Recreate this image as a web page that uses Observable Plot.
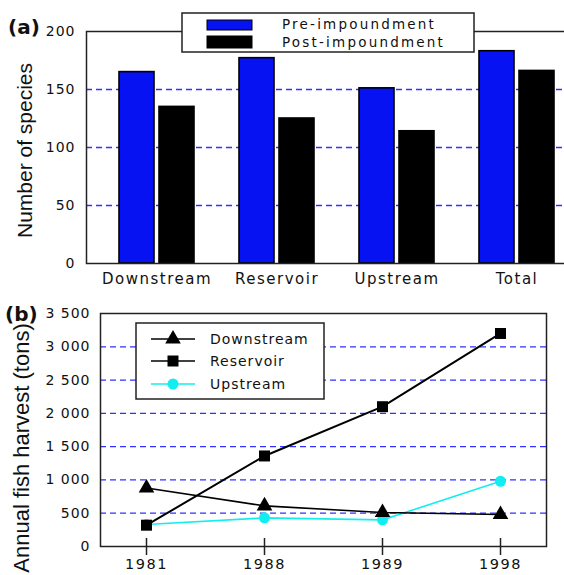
<!DOCTYPE html>
<html><head><meta charset="utf-8">
<script src="https://cdn.jsdelivr.net/npm/d3@7"></script>
<script src="https://cdn.jsdelivr.net/npm/@observablehq/plot@0.6"></script>
<style>
html,body{margin:0;padding:0;background:#fff;overflow:hidden;}
#wrap{position:relative;width:564px;height:575px;overflow:hidden;}
#wrap > svg{display:block;}
#overlay{position:absolute;left:0;top:0;pointer-events:none;}
.tick-lab g[aria-label="x-axis tick label"] text{letter-spacing:1.5px;}
.tick-lab g[aria-label="y-axis tick label"] text{letter-spacing:1px;}
</style>
</head><body>
<div id="wrap"></div>
<script>
// ---------- Data: panel (a) ----------
const categories = ["Downstream", "Reservoir", "Upstream", "Total"];
const preImpoundment = [165, 177, 151, 183];
const postImpoundment = [135, 125, 114, 166];
const seriesA = ["Pre-impoundment", "Post-impoundment"];
const colorsA = ["#0612f2", "#000000"];
const yTicksA = [0, 50, 100, 150, 200];
const gridA = [50, 100, 150];
const titleA = "Number of species";

// ---------- Data: panel (b) ----------
const years = ["1981", "1988", "1989", "1998"];
const downstream = [880, 610, 510, 480];
const reservoir = [320, 1360, 2100, 3200];
const upstream = [330, 430, 400, 980];
const seriesB = ["Downstream", "Reservoir", "Upstream"];
const colorsB = ["#000000", "#000000", "#12eef0"];
const symbolsB = ["triangle", "square", "circle"];
const yTicksB = [0, 500, 1000, 1500, 2000, 2500, 3000, 3500];
const gridB = [500, 1000, 1500, 2000, 2500, 3000];
const titleB = "Annual fish harvest (tons)";

const gridColor = "#3030ff";
const tickFont = "DejaVu Sans";
const titleFont = "Liberation Sans";

// ---------- Panel (a) ----------
const dataA = categories.map((c, i) => ({category: c, pre: preImpoundment[i], post: postImpoundment[i]}));
const plotA = Plot.plot({
  width: 564, height: 290,
  marginTop: 31, marginBottom: 27, marginLeft: 86, marginRight: -22,
  className: "tick-lab",
  style: {fontFamily: tickFont, color: "#111", background: "white"},
  x: {domain: categories, paddingInner: 0.379, paddingOuter: 0.26, label: null},
  y: {domain: [0, 200], label: null},
  marks: [
    Plot.ruleY(gridA, {stroke: gridColor, strokeDasharray: "6,4", strokeWidth: 1.3}),
    Plot.barY(dataA, {x: "category", y: "pre", fill: colorsA[0], stroke: "#000", strokeWidth: 1.6, insetRight: 40}),
    Plot.barY(dataA, {x: "category", y: "post", fill: colorsA[1], stroke: "#000", strokeWidth: 1.6, insetLeft: 40}),
    Plot.frame({stroke: "#222", strokeWidth: 1.5}),
    Plot.axisX({tickSize: 0, tickPadding: 10, fontSize: 15}),
    Plot.axisY({ticks: yTicksA, tickSize: 0, tickPadding: 11, fontSize: 14}),
    Plot.text([titleA], {text: d => d, frameAnchor: "left", textAnchor: "middle", rotate: -90, dx: -61, dy: 3, fontSize: 21, fontFamily: titleFont, fill: "#111"})
  ]
});

// ---------- Panel (b) ----------
const valuesB = [downstream, reservoir, upstream];
const dataB = seriesB.flatMap((s, si) => years.map((yr, i) => ({series: s, year: yr, value: valuesB[si][i]})));
const bySeries = s => dataB.filter(d => d.series === s);
const fmt = d3.formatLocale({thousands: " ", grouping: [3], decimal: ".", currency: ["", ""]}).format(",");
const plotB = Plot.plot({
  width: 564, height: 285,
  marginTop: 23, marginBottom: 29, marginLeft: 100, marginRight: 18,
  className: "tick-lab",
  style: {fontFamily: tickFont, color: "#111", background: "white"},
  x: {type: "point", domain: years, padding: 0.374, label: null},
  y: {domain: [0, 3500], label: null},
  marks: [
    Plot.ruleY(gridB, {stroke: gridColor, strokeDasharray: "6,4", strokeWidth: 1.3}),
    Plot.frame({stroke: "#222", strokeWidth: 1.5}),
    Plot.line(bySeries("Upstream"), {x: "year", y: "value", stroke: colorsB[2], strokeWidth: 1.6}),
    Plot.line(bySeries("Downstream"), {x: "year", y: "value", stroke: colorsB[0], strokeWidth: 1.6}),
    Plot.line(bySeries("Reservoir"), {x: "year", y: "value", stroke: colorsB[1], strokeWidth: 2}),
    Plot.dot(bySeries("Upstream"), {x: "year", y: "value", symbol: symbolsB[2], r: 5.5, fill: colorsB[2]}),
    Plot.dot(bySeries("Downstream"), {x: "year", y: "value", symbol: symbolsB[0], r: 5.8, fill: colorsB[0]}),
    Plot.dot(bySeries("Reservoir"), {x: "year", y: "value", symbol: symbolsB[1], r: 6.2, fill: colorsB[1]}),
    Plot.ruleX(years, {x: d => d, y1: 0, y2: 0, insetTop: 9, insetBottom: 8, stroke: "#222", strokeWidth: 1.5}),
    Plot.axisX({tickSize: 0, tickPadding: 12, fontSize: 14.5}),
    Plot.axisY({ticks: yTicksB, tickFormat: fmt, tickSize: 0, tickPadding: 10, fontSize: 14}),
    Plot.text([titleB], {text: d => d, frameAnchor: "left", textAnchor: "middle", rotate: -90, dx: -79, dy: 18, fontSize: 22, fontFamily: titleFont, fill: "#111"})
  ]
});

const wrap = document.getElementById("wrap");
wrap.appendChild(plotA);
wrap.appendChild(plotB);

// ---------- Overlay: panel letters and legends ----------
const ov = d3.select(wrap).append("svg").attr("id", "overlay").attr("width", 564).attr("height", 575);
ov.append("text").attr("x", 8).attr("y", 34).attr("font-family", tickFont).attr("font-weight", "bold").attr("font-size", 20).attr("fill", "#111").text("(a)");
ov.append("text").attr("x", 5).attr("y", 321).attr("font-family", tickFont).attr("font-weight", "bold").attr("font-size", 20).attr("fill", "#111").text("(b)");

// legend (a)
const la = ov.append("g").attr("transform", "translate(182,13)");
la.append("rect").attr("width", 292).attr("height", 39).attr("fill", "white").attr("stroke", "#222").attr("stroke-width", 1.5);
seriesA.forEach((s, i) => {
  la.append("rect").attr("x", 25).attr("y", i === 0 ? 7 : 23).attr("width", 45).attr("height", i === 0 ? 10 : 12).attr("fill", colorsA[i]).attr("stroke", "#000").attr("stroke-width", 1);
  la.append("text").attr("x", 100).attr("y", i === 0 ? 11 : 29).attr("dy", "0.35em")
    .attr("font-family", tickFont).attr("font-size", 13.5).attr("letter-spacing", "2.2px").attr("fill", "#111").text(s);
});

// legend (b)
const lb = ov.append("g").attr("transform", "translate(136,323)");
lb.append("rect").attr("width", 188).attr("height", 76).attr("fill", "white").attr("stroke", "#222").attr("stroke-width", 1.5);
const symMap = {triangle: d3.symbolTriangle, square: d3.symbolSquare, circle: d3.symbolCircle};
const rB = [5.8, 6.2, 5.5];
const rowY = [16, 38, 61];
seriesB.forEach((s, i) => {
  lb.append("line").attr("x1", 15).attr("x2", 59).attr("y1", rowY[i]).attr("y2", rowY[i]).attr("stroke", colorsB[i]).attr("stroke-width", 1.6);
  lb.append("path").attr("transform", `translate(37,${rowY[i]})`)
    .attr("d", d3.symbol(symMap[symbolsB[i]], Math.PI * rB[i] * rB[i])()).attr("fill", colorsB[i]);
  lb.append("text").attr("x", 74).attr("y", rowY[i]).attr("dy", "0.35em")
    .attr("font-family", tickFont).attr("font-size", 14).attr("letter-spacing", "1px").attr("fill", "#111").text(s);
});
</script>
</body></html>
